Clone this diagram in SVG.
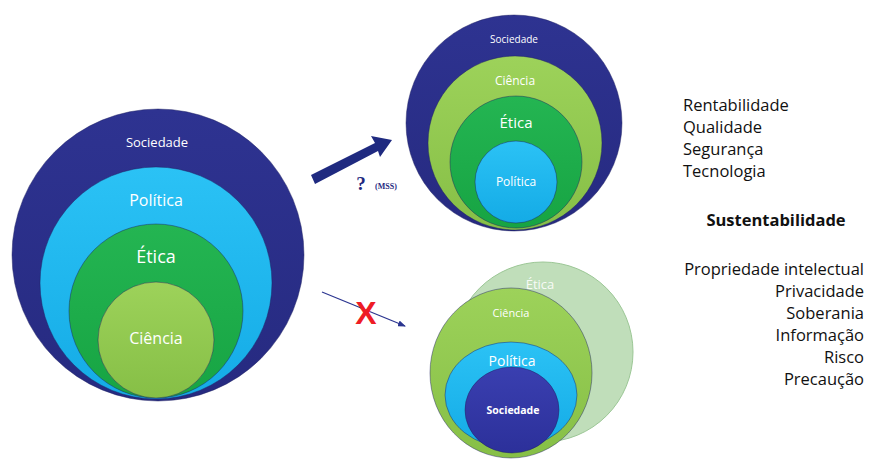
<svg xmlns="http://www.w3.org/2000/svg" width="869" height="460" viewBox="0 0 869 460">
<defs>
<linearGradient id="gNavy" x1="0" y1="0" x2="0" y2="1"><stop offset="0" stop-color="#2E3391"/><stop offset="1" stop-color="#262A80"/></linearGradient>
<linearGradient id="gNavy2" x1="0" y1="0" x2="0" y2="1"><stop offset="0" stop-color="#3A3FB0"/><stop offset="1" stop-color="#2C309A"/></linearGradient>
<linearGradient id="gCyan" x1="0" y1="0" x2="0" y2="1"><stop offset="0" stop-color="#2BC2F5"/><stop offset="1" stop-color="#14ABE6"/></linearGradient>
<linearGradient id="gGreen" x1="0" y1="0" x2="0" y2="1"><stop offset="0" stop-color="#24B552"/><stop offset="1" stop-color="#17A443"/></linearGradient>
<linearGradient id="gLime" x1="0" y1="0" x2="0" y2="1"><stop offset="0" stop-color="#9DD25A"/><stop offset="1" stop-color="#86BF46"/></linearGradient>
<marker id="thinHead" markerWidth="8" markerHeight="6" refX="7" refY="3" orient="auto" markerUnits="userSpaceOnUse"><path d="M0,0 L8,3 L0,6 Z" fill="#2B3590"/></marker>
</defs>
<style>
.c{stroke:#1d2060;stroke-opacity:0.45;stroke-width:1}
.lbl{font-family:"Open Sans","Liberation Sans",sans-serif;fill:#ffffff;text-anchor:middle}
.txt{font-family:"Open Sans","Liberation Sans",sans-serif;fill:#111111;font-size:16.5px}
</style>
<rect width="869" height="460" fill="#ffffff"/>

<g id="left-diagram">
<g id="left-sociedade"><circle class="c" cx="158" cy="255" r="146" fill="url(#gNavy)"/><text class="lbl" x="157" y="147" font-size="13">Sociedade</text></g>
<g id="left-politica"><circle class="c" cx="156" cy="283" r="116" fill="url(#gCyan)"/><text class="lbl" x="156" y="206" font-size="16">Política</text></g>
<g id="left-etica"><circle class="c" cx="156" cy="311" r="87" fill="url(#gGreen)"/><text class="lbl" x="156" y="263" font-size="18">Ética</text></g>
<g id="left-ciencia"><circle class="c" cx="156" cy="340" r="58" fill="url(#gLime)"/><text class="lbl" x="156" y="344" font-size="16">Ciência</text></g>
</g>

<g id="top-diagram">
<g id="top-sociedade"><circle class="c" cx="514" cy="123" r="108" fill="url(#gNavy)"/><text class="lbl" x="514" y="43" font-size="10">Sociedade</text></g>
<g id="top-ciencia"><circle class="c" cx="515" cy="143" r="87" fill="url(#gLime)"/><text class="lbl" x="515" y="85" font-size="12">Ciência</text></g>
<g id="top-etica"><circle class="c" cx="516" cy="162" r="66" fill="url(#gGreen)"/><text class="lbl" x="516" y="128" font-size="15">Ética</text></g>
<g id="top-politica"><circle class="c" cx="516" cy="182" r="41" fill="url(#gCyan)"/><text class="lbl" x="516" y="186" font-size="12">Política</text></g>
</g>

<g id="bottom-diagram">
<g id="bottom-etica"><circle cx="543" cy="352" r="90" fill="#B5D8AE" fill-opacity="0.85" stroke="#9cc796" stroke-width="1"/><text class="lbl" x="540" y="289" font-size="13" fill-opacity="0.9">Ética</text></g>
<g id="bottom-ciencia"><ellipse class="c" cx="511" cy="373" rx="81" ry="85" fill="url(#gLime)"/><text class="lbl" x="511" y="317" font-size="11">Ciência</text></g>
<g id="bottom-politica"><ellipse class="c" cx="511" cy="395" rx="66" ry="53" fill="url(#gCyan)"/><text class="lbl" x="512" y="366" font-size="14">Política</text></g>
<g id="bottom-sociedade"><ellipse class="c" cx="512" cy="410" rx="47" ry="43" fill="url(#gNavy2)"/><text class="lbl" x="513" y="414" font-size="10.5" font-weight="bold">Sociedade</text></g>
</g>

<g id="connectors">
<path d="M311,175 L375,143 L371,136 L392,140 L380,157 L378,151 L315,184 Z" fill="#1F2A80"/>
<line x1="322" y1="292" x2="405" y2="326" stroke="#2B3590" stroke-width="1.2" marker-end="url(#thinHead)"/>
</g>

<g id="arrow-labels">
<text x="361" y="190" font-family="'Liberation Serif',serif" font-weight="bold" font-size="19" fill="#1F2A80" text-anchor="middle">?</text>
<text x="386" y="189" font-family="'Liberation Serif',serif" font-weight="bold" font-size="8" fill="#1F2A80" text-anchor="middle">(MSS)</text>
<text x="366" y="324" font-family="'Liberation Sans',sans-serif" font-weight="bold" font-size="32" fill="#EE1C25" text-anchor="middle">X</text>
</g>

<g id="right-text">
<text class="txt" x="683" y="111">Rentabilidade</text>
<text class="txt" x="683" y="133">Qualidade</text>
<text class="txt" x="683" y="155">Segurança</text>
<text class="txt" x="683" y="177">Tecnologia</text>
<text class="txt" x="776" y="226" font-weight="bold" font-size="19" text-anchor="middle">Sustentabilidade</text>
<g text-anchor="end">
<text class="txt" x="864" y="275">Propriedade intelectual</text>
<text class="txt" x="864" y="297">Privacidade</text>
<text class="txt" x="864" y="319">Soberania</text>
<text class="txt" x="864" y="341">Informação</text>
<text class="txt" x="864" y="363">Risco</text>
<text class="txt" x="864" y="385">Precaução</text>
</g>
</g>
</svg>
